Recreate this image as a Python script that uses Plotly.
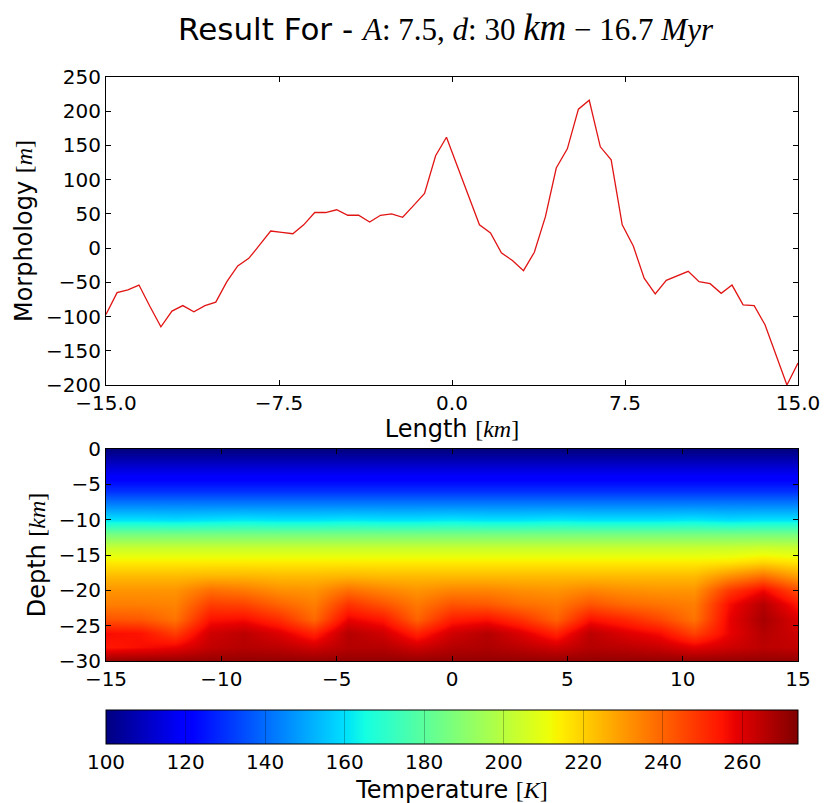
import plotly.graph_objects as go

# ---------------- Morphology profile (top panel) ----------------
length_km = [-15.0, -14.52, -14.05, -13.57, -13.1, -12.62, -12.14, -11.67, -11.19, -10.71,
             -10.24, -9.76, -9.29, -8.81, -8.33, -7.86, -7.38, -6.9, -6.43, -5.95,
             -5.48, -5.0, -4.52, -4.05, -3.57, -3.1, -2.62, -2.14, -1.67, -1.19,
             -0.71, -0.24, 0.24, 0.71, 1.19, 1.67, 2.14, 2.62, 3.1, 3.57,
             4.05, 4.52, 5.0, 5.48, 5.95, 6.43, 6.9, 7.38, 7.86, 8.33,
             8.81, 9.29, 9.76, 10.24, 10.71, 11.19, 11.67, 12.14, 12.62, 13.1,
             13.57, 14.05, 14.52, 15.0]
morphology_m = [-97, -65, -61, -54, -85, -115, -92, -84, -93, -84,
                -79, -49, -26, -15, 5, 25, 23, 21, 34, 52,
                52, 56, 48, 48, 38, 48, 50, 45, 62, 80,
                135, 162, 119, 76, 34, 22, -7, -18, -33, -6,
                46, 117, 145, 203, 216, 148, 129, 34, 3, -44,
                -67, -47, -40, -34, -49, -52, -66, -54, -83, -84,
                -112, -155, -200, -168]

top_xticks = [-15, -7.5, 0, 7.5, 15]
top_xticktext = ["\u221215.0", "\u22127.5", "0.0", "7.5", "15.0"]
top_yticks = [-200, -150, -100, -50, 0, 50, 100, 150, 200, 250]
top_yticktext = ["\u2212200", "\u2212150", "\u2212100", "\u221250", "0", "50", "100", "150", "200", "250"]

# ---------------- Temperature field (bottom panel) ----------------
grid_x = [-15, -13.5, -12, -10.5, -9, -7.5, -6, -4.5, -3, -1.5, 0,
          1.5, 3, 4.5, 6, 7.5, 9, 10.5, 12, 13.5, 15]
grid_depth = [0, -2, -4, -6, -8, -10, -12, -14, -16, -18, -20, -22, -24, -26, -28, -30]
temp_rows = [
    [100, 100, 100, 100, 100, 100, 100, 100, 100, 100, 100, 100, 100, 100, 100, 100, 100, 100, 100, 100, 100],
    [110, 110, 110, 110, 110, 110, 110, 110, 110, 110, 110, 110, 110, 110, 110, 110, 110, 110, 110, 110, 110],
    [120, 120, 120, 120, 120, 120, 120, 120, 120, 120, 120, 120, 120, 120, 120, 120, 120, 120, 120, 120, 120],
    [130, 130, 130, 130, 130, 130, 130, 130, 130, 130, 130, 130, 130, 130, 130, 130, 130, 130, 130, 130, 130],
    [146, 146, 146, 146, 146, 146, 146, 146, 146, 146, 146, 146, 146, 146, 146, 146, 146, 146, 146, 146, 146],
    [161, 161, 160, 161, 162, 161, 161, 162, 161, 161, 162, 161, 161, 162, 161, 161, 161, 162, 160, 161, 161],
    [186, 186, 186, 186, 186, 186, 186, 186, 186, 186, 186, 186, 186, 186, 186, 186, 186, 186, 186, 186, 186],
    [204, 204, 204, 204, 204, 204, 204, 204, 204, 204, 204, 204, 204, 204, 204, 204, 204, 204, 204, 205, 204],
    [215, 215, 215, 215, 215, 215, 215, 215, 215, 215, 215, 215, 215, 215, 215, 215, 215, 215, 216, 219, 216],
    [224, 224, 224, 225, 225, 224, 224, 225, 224, 224, 224, 224, 224, 224, 224, 224, 224, 224, 232, 238, 229],
    [231, 231, 231, 238, 236, 232, 231, 238, 234, 231, 234, 234, 232, 231, 234, 232, 231, 231, 248, 257, 244],
    [235, 235, 234, 247, 246, 240, 235, 249, 243, 236, 243, 242, 238, 236, 243, 239, 237, 235, 256, 266, 254],
    [243, 242, 237, 255, 256, 250, 239, 258, 254, 240, 253, 255, 249, 240, 255, 251, 245, 237, 258, 268, 260],
    [256, 255, 247, 262, 265, 260, 252, 266, 262, 252, 262, 266, 260, 252, 265, 260, 256, 246, 258, 266, 262],
    [254, 256, 258, 264, 266, 265, 262, 266, 266, 262, 266, 267, 265, 262, 266, 265, 263, 259, 262, 265, 264],
    [271, 271, 271, 271, 271, 271, 271, 271, 271, 271, 271, 271, 271, 271, 271, 271, 271, 271, 271, 271, 271],
]
temp_min, temp_max = 100, 274
cbar_ticks = [100, 120, 140, 160, 180, 200, 220, 240, 260]
heat_xticks = [-15, -10, -5, 0, 5, 10, 15]
heat_xticktext = ["\u221215", "\u221210", "\u22125", "0", "5", "10", "15"]
heat_yticks = [0, -5, -10, -15, -20, -25, -30]
heat_yticktext = ["0", "\u22125", "\u221210", "\u221215", "\u221220", "\u221225", "\u221230"]

# matplotlib "jet" colormap
jet = [
    [0.0, "rgb(0,0,128)"], [0.11, "rgb(0,0,255)"], [0.125, "rgb(0,0,255)"],
    [0.34, "rgb(0,219,255)"], [0.35, "rgb(0,229,247)"], [0.375, "rgb(21,255,226)"],
    [0.64, "rgb(238,255,8)"], [0.65, "rgb(247,246,0)"], [0.66, "rgb(255,236,0)"],
    [0.89, "rgb(255,19,0)"], [0.91, "rgb(232,0,0)"], [1.0, "rgb(128,0,0)"],
]

FONT = "DejaVu Sans"
SERIF = "Liberation Serif"

def mlabel(word, unit):
    return f'{word} <span style="font-family:{SERIF}">[<i>{unit}</i>]</span>'

fig = go.Figure()
fig.add_trace(go.Scatter(
    x=length_km, y=morphology_m, mode="lines",
    line=dict(color="rgb(225,20,20)", width=1.3),
    xaxis="x", yaxis="y", showlegend=False,
))
fig.add_trace(go.Heatmap(
    x=grid_x, y=grid_depth, z=temp_rows, zsmooth="best",
    colorscale=jet, zmin=temp_min, zmax=temp_max,
    xaxis="x2", yaxis="y2",
    colorbar=dict(
        orientation="h", x=0.5, xanchor="center", y=-0.084, yanchor="top",
        len=1.0, lenmode="fraction", thickness=34, xpad=0, ypad=0,
        outlinecolor="black", outlinewidth=1,
        tickvals=cbar_ticks, ticks="inside", ticklen=34, tickcolor="rgba(0,0,0,0.25)",
        tickfont=dict(family=FONT, size=20, color="black"),
        title=dict(text=mlabel("Temperature", "K"), side="bottom",
                   font=dict(family=FONT, size=24, color="black")),
    ),
))

axis_common = dict(
    showline=True, linecolor="black", linewidth=1, mirror="allticks",
    ticks="inside", ticklen=5, tickcolor="black", showgrid=False, zeroline=False,
    tickfont=dict(family=FONT, size=20, color="black"),
)

fig.update_layout(
    width=825, height=803,
    margin=dict(l=106, r=27, t=77, b=142, autoexpand=False),
    paper_bgcolor="white", plot_bgcolor="white",
    title=dict(
        text='Result For - <span style="font-family:Liberation Serif"><i>A</i>: 7.5, <i>d</i>: 30 '
             '<span style="font-family:Liberation Serif;font-size:37px"><i>km</i></span> \u2212 16.7 <i>Myr</i></span>',
        x=0.54, xanchor="center", y=0.964, yanchor="middle",
        font=dict(family=FONT, size=31, color="black"),
    ),
    xaxis=dict(domain=[0, 1], anchor="y", range=[-15, 15],
               tickvals=top_xticks, ticktext=top_xticktext,
               title=dict(text=mlabel("Length", "km"), font=dict(family=FONT, size=24, color="black"), standoff=0),
               **axis_common),
    yaxis=dict(domain=[0.4726, 1], anchor="x", range=[-200, 250],
               tickvals=top_yticks, ticktext=top_yticktext,
               title=dict(text=mlabel("Morphology", "m"), font=dict(family=FONT, size=24, color="black"), standoff=6),
               **axis_common),
    xaxis2=dict(domain=[0, 1], anchor="y2", range=[-15, 15],
                tickvals=heat_xticks, ticktext=heat_xticktext, **axis_common),
    yaxis2=dict(domain=[0, 0.363], anchor="x2", range=[-30, 0],
                tickvals=heat_yticks, ticktext=heat_yticktext,
                title=dict(text=mlabel("Depth", "km"), font=dict(family=FONT, size=24, color="black"), standoff=6),
                **axis_common),
)

fig.write_html("out.html")
